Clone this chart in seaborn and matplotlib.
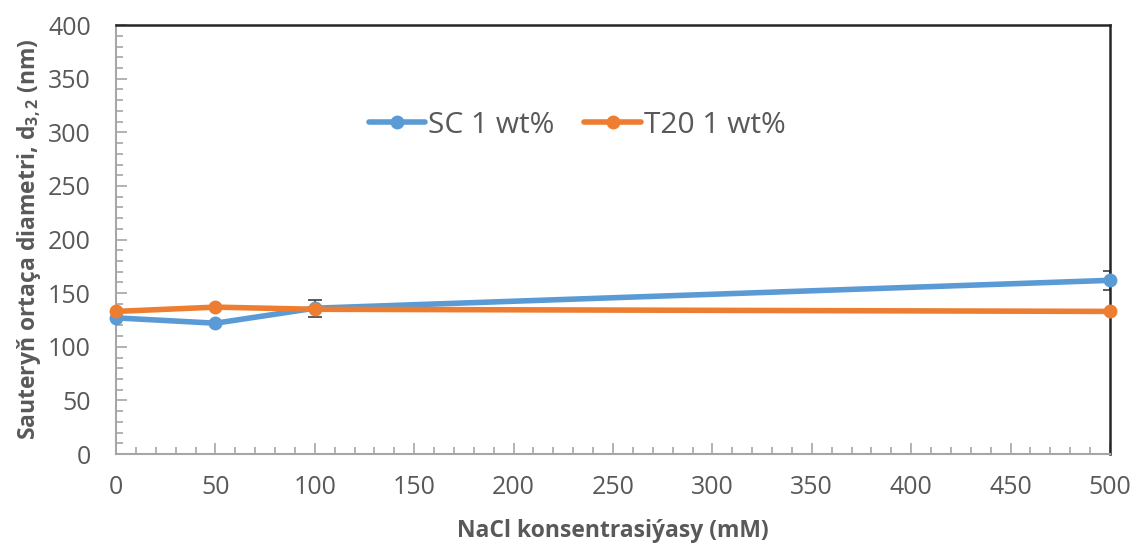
import pandas as pd
import numpy as np
import matplotlib
matplotlib.use("Agg")
import matplotlib.pyplot as plt
import seaborn as sns
from matplotlib.ticker import MultipleLocator

# data
nacl_mm = [0, 50, 100, 500]
sc_d32 = [127, 122, 136, 162]
sc_err = [0, 0, 8, 9]
t20_d32 = [133, 137, 135, 133]
t20_err = [0, 0, 2, 0]
series_names = ["SC 1 wt%", "T20 1 wt%"]
colors = ["#5B9BD5", "#ED7D31"]

df = pd.DataFrame({
    "nacl": nacl_mm * 2,
    "d32": sc_d32 + t20_d32,
    "series": [series_names[0]] * 4 + [series_names[1]] * 4,
})

sns.set_style("white")
plt.rcParams["font.family"] = ["Open Sans", "DejaVu Sans"]
plt.rcParams["mathtext.fontset"] = "custom"
plt.rcParams["mathtext.rm"] = "Open Sans"
plt.rcParams["mathtext.bf"] = "Open Sans:bold"

text_col = "#595959"
grey = "#A6A6A6"

fig = plt.figure(figsize=(11.33, 5.47), dpi=100)
ax = fig.add_axes([0.1024, 0.170, 0.8773, 0.784])

# error bars first so the markers sit on top
ax.errorbar(nacl_mm, sc_d32, yerr=sc_err, fmt="none", ecolor="#404040",
            elinewidth=1.2, capsize=5, capthick=1.2, zorder=2)
ax.errorbar(nacl_mm, t20_d32, yerr=t20_err, fmt="none", ecolor="#404040",
            elinewidth=1.2, capsize=5, capthick=1.2, zorder=2)

sns.lineplot(data=df, x="nacl", y="d32", hue="series", palette=colors,
             marker="o", markersize=10, markeredgewidth=0, linewidth=4,
             ax=ax, zorder=3, clip_on=False)

ax.set_xlim(0, 500)
ax.set_ylim(0, 400)
ax.xaxis.set_major_locator(MultipleLocator(50))
ax.xaxis.set_minor_locator(MultipleLocator(10))
ax.yaxis.set_major_locator(MultipleLocator(50))
ax.yaxis.set_minor_locator(MultipleLocator(10))

ax.tick_params(axis="both", which="both", direction="in", colors=grey,
               labelcolor=text_col, labelsize=18, bottom=True, left=True)
ax.tick_params(axis="x", which="major", length=8, width=1.2, pad=15)
ax.tick_params(axis="y", which="major", length=8, width=1.2, pad=18)
ax.tick_params(axis="both", which="minor", length=5, width=1.2)

for side in ["left", "bottom"]:
    ax.spines[side].set_color(grey)
    ax.spines[side].set_linewidth(1.5)
for side in ["top", "right"]:
    ax.spines[side].set_color("#262626")
    ax.spines[side].set_linewidth(1.8)

ax.set_xlabel("NaCl konsentrasiýasy (mM)", fontsize=16.5, fontweight="bold",
              color=text_col, labelpad=14)
ax.set_ylabel(r"Sauteryň ortaça diametri, d$_{\mathbf{3,2}}$ (nm)", fontsize=16.5,
              fontweight="bold", color=text_col, labelpad=4)

handles, labels = ax.get_legend_handles_labels()
leg = ax.legend(handles, labels, loc="center", bbox_to_anchor=(0.464, 0.767),
                ncol=2, frameon=False, fontsize=21.5, handlelength=1.9,
                columnspacing=1.0, handletextpad=0.1, labelcolor=text_col)

fig.savefig("out.png", dpi=100)
